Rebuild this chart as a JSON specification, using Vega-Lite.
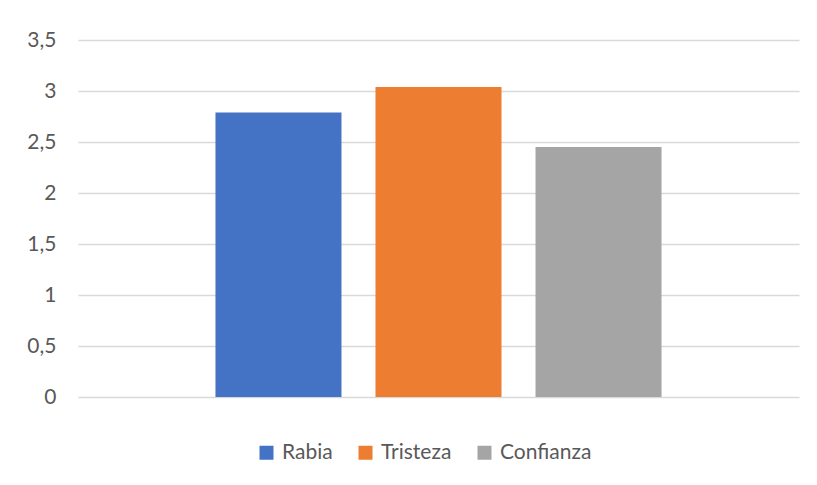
{
  "$schema": "https://vega.github.io/schema/vega-lite/v6.json",
  "width": 721,
  "height": 357,
  "autosize": "none",
  "padding": {"left": 78, "top": 40, "right": 18, "bottom": 88},
  "background": "white",
  "data": {
    "values": [
      {"serie": "Rabia", "valor": 2.79},
      {"serie": "Tristeza", "valor": 3.04},
      {"serie": "Confianza", "valor": 2.45}
    ]
  },
  "mark": {"type": "bar"},
  "encoding": {
    "x": {
      "field": "serie",
      "type": "nominal",
      "sort": ["Rabia", "Tristeza", "Confianza"],
      "scale": {"paddingInner": 0.2125, "paddingOuter": 0.859},
      "axis": null
    },
    "y": {
      "field": "valor",
      "type": "quantitative",
      "scale": {"domain": [0, 3.5], "nice": false},
      "axis": {
        "title": null,
        "values": [0, 0.5, 1, 1.5, 2, 2.5, 3, 3.5],
        "labelExpr": "replace(toString(datum.value), '.', ',')",
        "domain": false,
        "ticks": false,
        "labelPadding": 22,
        "labelFont": "Lato",
        "labelFontSize": 21,
        "labelColor": "#595959",
        "gridColor": "#d9d9d9",
        "gridWidth": 1.5
      }
    },
    "color": {
      "field": "serie",
      "type": "nominal",
      "sort": ["Rabia", "Tristeza", "Confianza"],
      "scale": {"range": ["#4472C4", "#ED7D31", "#A5A5A5"]},
      "legend": {
        "title": null,
        "orient": "none",
        "legendX": 178,
        "legendY": 402,
        "direction": "horizontal",
        "symbolType": "square",
        "symbolSize": 196,
        "symbolStrokeWidth": 0,
        "labelFont": "Lato",
        "labelFontSize": 21,
        "labelColor": "#595959",
        "labelOffset": 5,
        "columnPadding": 22
      }
    }
  },
  "config": {
    "view": {"stroke": null}
  }
}
